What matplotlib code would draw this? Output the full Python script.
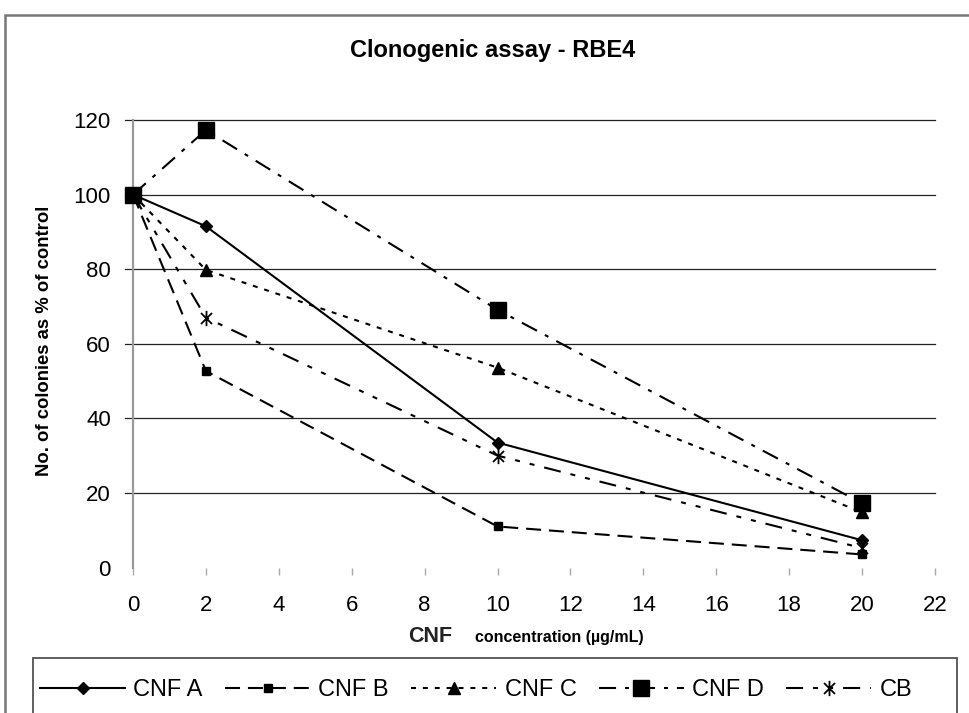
import matplotlib
matplotlib.use('Agg')
import matplotlib.pyplot as plt
from matplotlib.path import Path
from matplotlib.patches import Rectangle

plt.rcParams['font.family'] = ['Liberation Sans', 'DejaVu Sans']

# ---- data ----
concentration = [0, 2, 10, 20]
cnf_a = [100, 91.5, 33.5, 7.3]
cnf_b = [100, 52.7, 11.0, 3.5]
cnf_c = [100, 79.8, 53.6, 14.8]
cnf_d = [100, 117.3, 69.1, 17.2]
cb = [100, 67.0, 30.0, 5.2]
series_labels = ['CNF A', 'CNF B', 'CNF C', 'CNF D', 'CB']
x_ticks = list(range(0, 23, 2))
y_ticks = list(range(0, 121, 20))

W, H = 970, 713
fig = plt.figure(figsize=(W / 100, H / 100), dpi=100)
ax = fig.add_axes([133 / W, 1 - 567.5 / H, (935 - 133) / W, (567.5 - 120) / H])

# asterisk marker (vertical + X)
ast = Path([(0, -1), (0, 1), (-0.72, -0.72), (0.72, 0.72), (-0.72, 0.72), (0.72, -0.72)],
           [Path.MOVETO, Path.LINETO, Path.MOVETO, Path.LINETO, Path.MOVETO, Path.LINETO])

lw = 1.5
styles = [
    dict(ls='-', marker='D', ms=6),
    dict(ls=(0, (7.2, 3.8)), marker='s', ms=6),
    dict(ls=(0, (2.4, 3.3)), marker='^', ms=8),
    dict(ls=(0, (8.2, 4.3, 1.9, 4.3)), marker='s', ms=12),
    dict(ls=(0, (8.2, 4.8, 2.4, 4.8, 2.4, 4.8)), marker=ast, ms=11, mew=1.3),
]
series = [cnf_a, cnf_b, cnf_c, cnf_d, cb]
handles = []
for vals, lab, st in zip(series, series_labels, styles):
    st = dict(st)
    mew = st.pop('mew', 1.0)
    h, = ax.plot(concentration, vals, color='black', lw=lw, label=lab,
                 markerfacecolor='black', markeredgecolor='black', markeredgewidth=mew,
                 clip_on=False, zorder=3, **st)
    handles.append(h)

ax.set_xlim(0, 22)
ax.set_ylim(0, 120)
ax.set_xticks(x_ticks)
ax.set_yticks(y_ticks)

for y in y_ticks[1:]:
    ax.axhline(y, xmin=-0.01, xmax=1, color='#222222', lw=0.9, clip_on=False, zorder=1)

for s in ['top', 'right', 'bottom']:
    ax.spines[s].set_visible(False)
ax.spines['left'].set_color('#999999')
ax.spines['left'].set_linewidth(1.6)

ax.tick_params(axis='y', length=0, pad=16, labelsize=16)
ax.tick_params(axis='x', length=5, width=1, color='#aaaaaa', direction='out', pad=15, labelsize=16)

# titles / labels
fig.text(0.508, 1 - 51 / H, 'Clonogenic assay - RBE4', ha='center', va='center',
         fontsize=17, fontweight='bold')
fig.text(45 / W, 1 - 341 / H, 'No. of colonies as % of control', rotation=90,
         ha='center', va='center', fontsize=13.3, fontweight='bold')
fig.text(408 / W, 1 - 642 / H, 'CNF', ha='left', va='baseline', fontsize=15.5,
         fontweight='bold', color='#222222')
fig.text(475 / W, 1 - 642 / H, 'concentration (µg/mL)', ha='left', va='baseline',
         fontsize=11.5, fontweight='bold')

# legend
fig.legend(handles, series_labels, loc='center left', bbox_to_anchor=(40 / W, 1 - 690 / H),
           ncol=5, frameon=False, fontsize=17, handlelength=3.6, handletextpad=0.35,
           columnspacing=0.95, borderpad=0, borderaxespad=0)

fig.add_artist(Rectangle((33 / W, -0.05), (957 - 33) / W, 0.05 + (1 - 658 / H),
                         transform=fig.transFigure, fill=False, ec='#444444', lw=1.2))
fig.add_artist(Rectangle((5 / W, -0.05), 1.0, 0.05 + (1 - 15 / H),
                         transform=fig.transFigure, fill=False, ec='#777777', lw=1.8))

fig.savefig('out.png', dpi=100)
